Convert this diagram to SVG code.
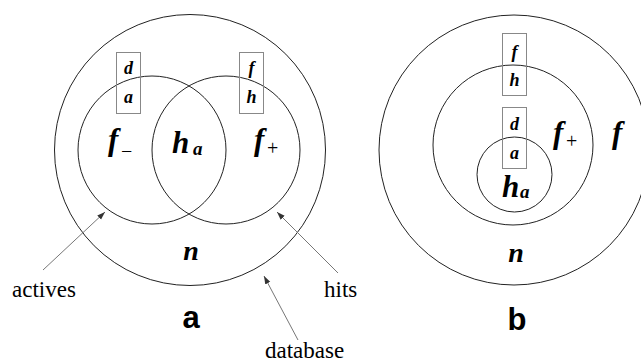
<svg xmlns="http://www.w3.org/2000/svg" width="641" height="364" viewBox="0 0 641 364">
<style>
.c{fill:none;stroke:#222;stroke-width:1}
.box{fill:none;stroke:#888;stroke-width:1}
.m{font-family:"Liberation Serif","Times New Roman",serif;font-weight:bold;font-style:italic;fill:#000}
.s{font-family:"Liberation Serif","Times New Roman",serif;fill:#000}
.lbl{font-family:"Liberation Serif","Times New Roman",serif;font-size:23px;fill:#000}
.big{font-family:"Liberation Sans",Arial,sans-serif;font-weight:bold;font-size:31px;fill:#000;text-anchor:middle}
.ar{stroke:#777;stroke-width:1;fill:none;marker-end:url(#ah)}
</style>
<defs>
<marker id="ah" viewBox="0 0 10 10" refX="10" refY="5" markerWidth="8" markerHeight="8" markerUnits="userSpaceOnUse" orient="auto">
<path d="M0,1.5 L10,5 L0,8.5 Z" fill="#333"/>
</marker>
</defs>
<rect width="641" height="364" fill="#fff"/>
<!-- Diagram a -->
<g id="a-database"><circle class="c" cx="190" cy="150" r="135.5"/></g>
<g id="a-actives"><circle class="c" cx="152" cy="150" r="74"/></g>
<g id="a-hits"><circle class="c" cx="226" cy="150" r="74"/></g>
<g id="a-box-da"><rect class="box" x="116.5" y="52.5" width="24" height="61"/>
<text class="m" x="128.5" y="74" font-size="18" text-anchor="middle">d</text>
<text class="m" x="128.5" y="103" font-size="18" text-anchor="middle">a</text></g>
<g id="a-box-fh"><rect class="box" x="239.5" y="52.5" width="24" height="61"/>
<text class="m" x="251.5" y="74" font-size="18" text-anchor="middle">f</text>
<text class="m" x="251.5" y="103" font-size="18" text-anchor="middle">h</text></g>
<g id="a-fminus"><text class="m" x="108" y="150" font-size="31">f</text><text class="s" x="121" y="158" font-size="20">−</text></g>
<g id="a-ha"><text class="m" x="172" y="153" font-size="31">h</text><text class="m" x="193" y="155" font-size="19">a</text></g>
<g id="a-fplus"><text class="m" x="254" y="150" font-size="31">f</text><text class="s" x="267" y="155" font-size="20">+</text></g>
<g id="a-n"><text class="m" x="191" y="260" font-size="28" text-anchor="middle">n</text></g>
<g id="a-labels">
<text class="lbl" x="12" y="297">actives</text>
<text class="lbl" x="324" y="297">hits</text>
<text class="lbl" x="265" y="358">database</text>
<text class="big" x="191" y="328">a</text>
</g>
<!-- Diagram b -->
<g id="b-database"><circle class="c" cx="514" cy="150" r="135"/></g>
<g id="b-hits"><circle class="c" cx="513" cy="145" r="80"/></g>
<g id="b-actives"><circle class="c" cx="514.5" cy="174.5" r="37.5"/></g>
<g id="b-box-fh"><rect class="box" x="502.5" y="33.5" width="24" height="62"/>
<text class="m" x="514.5" y="58" font-size="18" text-anchor="middle">f</text>
<text class="m" x="514.5" y="86" font-size="18" text-anchor="middle">h</text></g>
<g id="b-box-da"><rect class="box" x="502.5" y="107.5" width="24" height="61"/>
<text class="m" x="514.5" y="130" font-size="18" text-anchor="middle">d</text>
<text class="m" x="514.5" y="159" font-size="18" text-anchor="middle">a</text></g>
<g id="b-fplus"><text class="m" x="553" y="143" font-size="31">f</text><text class="s" x="566" y="148" font-size="20">+</text></g>
<g id="b-f"><text class="m" x="612" y="143" font-size="31">f</text></g>
<g id="b-ha"><text class="m" x="502" y="197" font-size="31">h</text><text class="m" x="520" y="198" font-size="19">a</text></g>
<g id="b-n"><text class="m" x="516" y="262" font-size="28" text-anchor="middle">n</text></g>
<g id="b-labels"><text class="big" x="517" y="330">b</text></g>
<g id="connectors">
<line class="ar" x1="43" y1="270" x2="105" y2="212"/>
<line class="ar" x1="338" y1="273" x2="277" y2="212"/>
<line class="ar" x1="298" y1="340" x2="264" y2="276"/>
</g>
</svg>
